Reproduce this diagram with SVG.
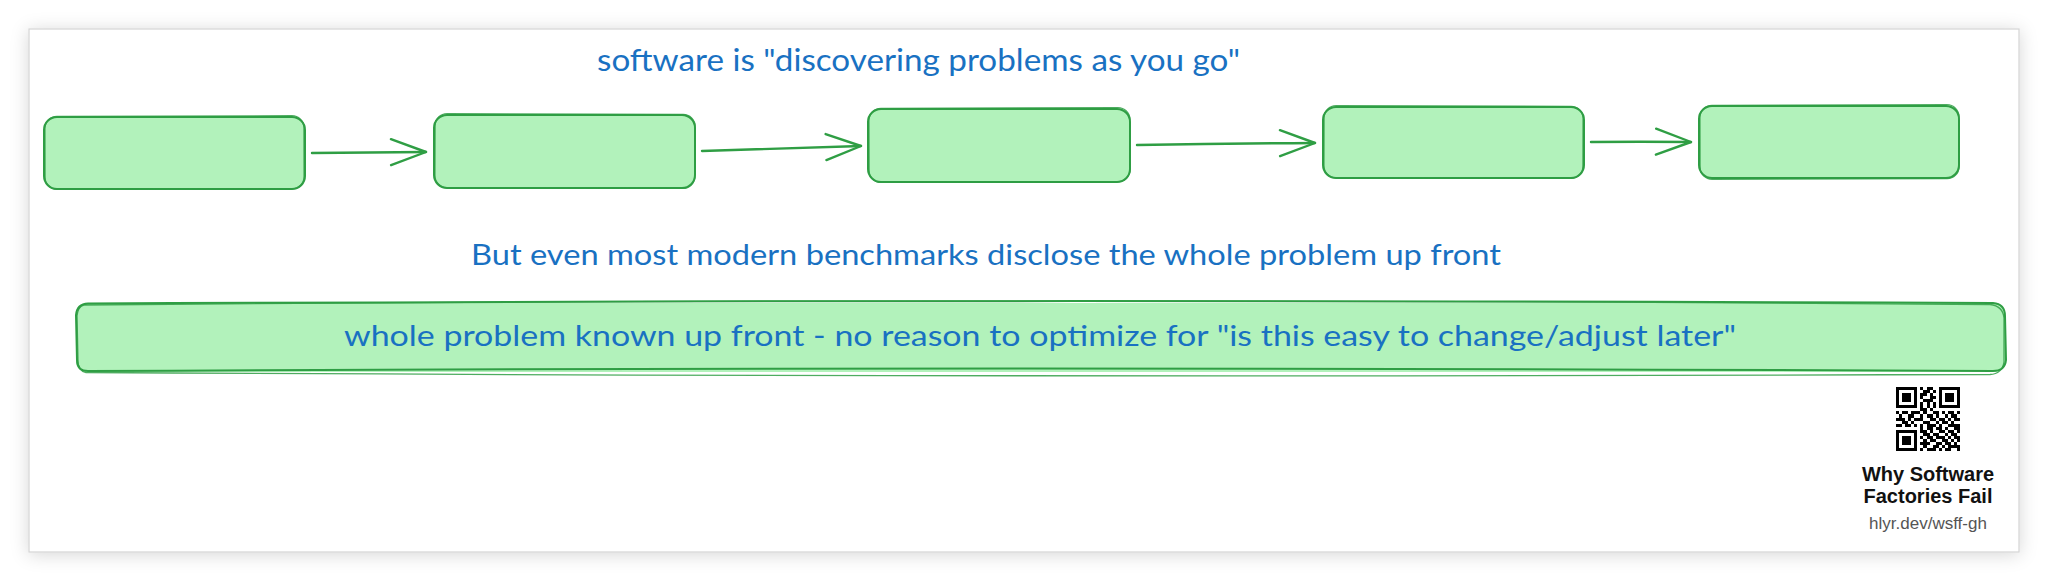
<svg xmlns="http://www.w3.org/2000/svg" width="2048" height="583" viewBox="0 0 2048 583">
<defs>
<filter id="shadow" x="-5%" y="-20%" width="110%" height="140%">
<feDropShadow dx="0" dy="2" stdDeviation="9" flood-color="#000" flood-opacity="0.16"/>
</filter>
<marker id="arrow" markerUnits="userSpaceOnUse" viewBox="-40 -16 44 32" refX="0" refY="0" markerWidth="44" markerHeight="32" orient="auto">
<path d="M-35 -13 L0 0 L-35 13" fill="none" stroke="#2f9e44" stroke-width="2.4" stroke-linecap="round" stroke-linejoin="round"/>
</marker>
<style>
.fill{fill:#b2f2bb;stroke:none}
.sk{fill:none;stroke:#2f9e44;stroke-width:2;stroke-linecap:round}
.sk2{fill:none;stroke:#2f9e44;stroke-width:1.3;stroke-opacity:0.85}
.hand{font-family:"Lato","Open Sans","Liberation Sans",sans-serif;fill:#1971c2}
.conn{fill:none;stroke:#2f9e44;stroke-width:2.4;stroke-linecap:round}
.lbl{font-family:"Liberation Sans",Arial,sans-serif;text-anchor:middle}
</style>
</defs>
<rect x="0" y="0" width="2048" height="583" fill="#ffffff"/>
<rect x="29" y="29" width="1990" height="523" fill="#ffffff" stroke="#d4d4d4" stroke-width="1.2" filter="url(#shadow)"/>

<text class="hand" x="597" y="71" font-size="30" textLength="643" lengthAdjust="spacingAndGlyphs">software is "discovering problems as you go"</text>

<g id="box1">
<rect class="fill" x="44" y="117" width="261" height="72" rx="13"/>
<rect class="sk" x="44" y="117" width="261" height="72" rx="13"/>
<rect class="sk2" x="45" y="116" width="259" height="73" rx="12" transform="rotate(-0.15 174 153)"/>
</g>
<g id="box2">
<rect class="fill" x="434" y="115" width="261" height="73" rx="13"/>
<rect class="sk" x="434" y="115" width="261" height="73" rx="13"/>
<rect class="sk2" x="435" y="114" width="260" height="74" rx="12" transform="rotate(0.2 564 151)"/>
</g>
<g id="box3">
<rect class="fill" x="868" y="109" width="262" height="73" rx="13"/>
<rect class="sk" x="868" y="109" width="262" height="73" rx="13"/>
<rect class="sk2" x="869" y="108" width="261" height="74" rx="12" transform="rotate(-0.2 999 145)"/>
</g>
<g id="box4">
<rect class="fill" x="1323" y="107" width="261" height="71" rx="13"/>
<rect class="sk" x="1323" y="107" width="261" height="71" rx="13"/>
<rect class="sk2" x="1324" y="106" width="259" height="72" rx="12" transform="rotate(0.15 1453 142)"/>
</g>
<g id="box5">
<rect class="fill" x="1699" y="106" width="260" height="72" rx="13"/>
<rect class="sk" x="1699" y="106" width="260" height="72" rx="13"/>
<rect class="sk2" x="1700" y="105" width="259" height="74" rx="12" transform="rotate(-0.15 1829 142)"/>
</g>

<g id="connectors">
<path class="conn" d="M312 153 Q370 152.3 426 152" marker-end="url(#arrow)"/>
<path class="conn" d="M702 151 Q780 148.5 861 146" marker-end="url(#arrow)"/>
<path class="conn" d="M1137 145 Q1225 143.5 1315 143" marker-end="url(#arrow)"/>
<path class="conn" d="M1591 142 Q1640 141.5 1691 142" marker-end="url(#arrow)"/>
</g>

<text class="hand" x="471" y="265" font-size="28" textLength="1030" lengthAdjust="spacingAndGlyphs">But even most modern benchmarks disclose the whole problem up front</text>

<g id="bigbox">
<path class="fill" d="M88 303 L1993 303 Q2005 303 2005 315 L2005 360 Q2005 372 1993 372 L88 372 Q76 372 76 360 L76 315 Q76 303 88 303 Z"/>
<path class="sk" d="M88 303.5 Q1000 299 1993 303 Q2005 304 2005 316 L2006 360 Q2005 371 1993 371 Q1000 366 88 371 Q77 371 77 360 L76 315 Q77 304 88 303.5 Z"/>
<path class="sk2" d="M84 305 Q1000 297 1990 304.5 Q2003 306 2004 318 L2004 362 Q2002 374 1990 374.5 Q1000 378 86 372.5 Q78 371 78 361 L77 316 Q78 306 84 305 Z"/>
<text class="hand" x="344" y="346" font-size="28" textLength="1392" lengthAdjust="spacingAndGlyphs">whole problem known up front - no reason to optimize for "is this easy to change/adjust later"</text>
</g>

<g id="qr" transform="translate(1896 387) scale(3.05)" fill="#000" shape-rendering="crispEdges">
<path d="M0 0h7v1h-7zM8 0h1v1h-1zM10 0h2v1h-2zM14 0h7v1h-7z
M0 1h1v1h-1zM6 1h1v1h-1zM9 1h2v1h-2zM12 1h1v1h-1zM14 1h1v1h-1zM20 1h1v1h-1z
M0 2h1v1h-1zM2 2h3v1h-3zM6 2h1v1h-1zM8 2h2v1h-2zM11 2h1v1h-1zM14 2h1v1h-1zM16 2h3v1h-3zM20 2h1v1h-1z
M0 3h1v1h-1zM2 3h3v1h-3zM6 3h1v1h-1zM8 3h1v1h-1zM11 3h2v1h-2zM14 3h1v1h-1zM16 3h3v1h-3zM20 3h1v1h-1z
M0 4h1v1h-1zM2 4h3v1h-3zM6 4h1v1h-1zM9 4h3v1h-3zM14 4h1v1h-1zM16 4h3v1h-3zM20 4h1v1h-1z
M0 5h1v1h-1zM6 5h1v1h-1zM8 5h1v1h-1zM10 5h1v1h-1zM12 5h1v1h-1zM14 5h1v1h-1zM20 5h1v1h-1z
M0 6h7v1h-7zM8 6h1v1h-1zM10 6h1v1h-1zM12 6h1v1h-1zM14 6h7v1h-7z
M8 7h2v1h-2zM11 7h1v1h-1z
M0 8h1v1h-1zM2 8h2v1h-2zM5 8h3v1h-3zM9 8h1v1h-1zM12 8h2v1h-2zM15 8h1v1h-1zM17 8h2v1h-2zM20 8h1v1h-1z
M1 9h1v1h-1zM4 9h2v1h-2zM8 9h1v1h-1zM10 9h2v1h-2zM13 9h1v1h-1zM16 9h1v1h-1zM18 9h2v1h-2z
M0 10h3v1h-3zM4 10h1v1h-1zM6 10h3v1h-3zM11 10h2v1h-2zM14 10h2v1h-2zM17 10h1v1h-1zM19 10h2v1h-2z
M2 11h2v1h-2zM5 11h1v1h-1zM9 11h2v1h-2zM13 11h1v1h-1zM15 11h2v1h-2zM18 11h1v1h-1z
M0 12h2v1h-2zM3 12h2v1h-2zM6 12h1v1h-1zM8 12h1v1h-1zM10 12h3v1h-3zM14 12h1v1h-1zM17 12h4v1h-4z
M8 13h1v1h-1zM10 13h2v1h-2zM13 13h2v1h-2zM16 13h1v1h-1zM19 13h2v1h-2z
M0 14h7v1h-7zM8 14h2v1h-2zM11 14h1v1h-1zM14 14h2v1h-2zM17 14h2v1h-2zM20 14h1v1h-1z
M0 15h1v1h-1zM6 15h1v1h-1zM9 15h2v1h-2zM12 15h2v1h-2zM16 15h1v1h-1zM18 15h2v1h-2z
M0 16h1v1h-1zM2 16h3v1h-3zM6 16h1v1h-1zM8 16h1v1h-1zM10 16h2v1h-2zM13 16h3v1h-3zM17 16h1v1h-1zM19 16h2v1h-2z
M0 17h1v1h-1zM2 17h3v1h-3zM6 17h1v1h-1zM9 17h1v1h-1zM11 17h2v1h-2zM15 17h2v1h-2zM18 17h1v1h-1zM20 17h1v1h-1z
M0 18h1v1h-1zM2 18h3v1h-3zM6 18h1v1h-1zM8 18h3v1h-3zM13 18h2v1h-2zM16 18h2v1h-2zM19 18h1v1h-1z
M0 19h1v1h-1zM6 19h1v1h-1zM9 19h1v1h-1zM12 19h2v1h-2zM15 19h1v1h-1zM17 19h4v1h-4z
M0 20h7v1h-7zM8 20h1v1h-1zM10 20h3v1h-3zM14 20h1v1h-1zM16 20h2v1h-2zM20 20h1v1h-1z"/>
</g>

<g id="caption">
<text class="lbl" x="1928" y="481" font-size="20" font-weight="bold" fill="#111">Why Software</text>
<text class="lbl" x="1928" y="503" font-size="20" font-weight="bold" fill="#111">Factories Fail</text>
<text class="lbl" x="1928" y="529" font-size="17" fill="#555">hlyr.dev/wsff-gh</text>
</g>
</svg>
